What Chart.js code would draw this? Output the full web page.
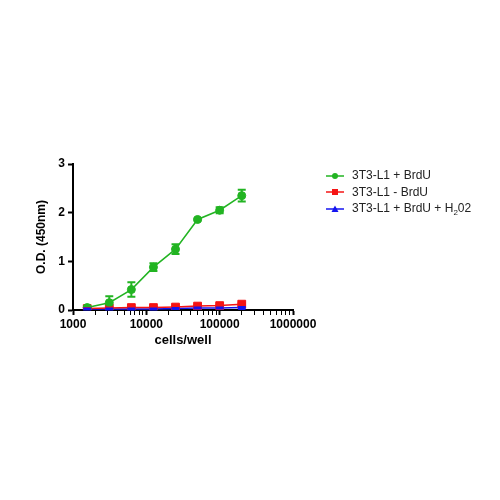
<!DOCTYPE html>
<html>
<head>
<meta charset="utf-8">
<script src="https://cdn.jsdelivr.net/npm/chart.js@4/dist/chart.umd.min.js"></script>
<style>
  body { margin: 0; background: #fff; }
  #wrap { position: relative; width: 500px; height: 500px; }
  .legend { position: absolute; left: 325px; top: 167px; font: 12px "Liberation Sans", Arial, sans-serif; color: #222; }
  .legend div { height: 16.5px; line-height: 16.5px; white-space: nowrap; }
  .legend canvas { vertical-align: middle; margin-right: 7px; }
  .legend sub { font-size: 8px; }
</style>
</head>
<body>
<div id="wrap">
  <canvas id="myChart" width="500" height="500"></canvas>
  <div class="legend" id="legend"></div>
</div>
<script>
// клетки на лунку (двукратные разведения)
const cells = [1562.5, 3125, 6250, 12500, 25000, 50000, 100000, 200000];

const brdu = [0.05, 0.15, 0.42, 0.88, 1.25, 1.86, 2.05, 2.35];
const brduErr = [0.03, 0.13, 0.15, 0.08, 0.10, 0.02, 0.06, 0.12];
const noBrdu = [0.03, 0.04, 0.05, 0.05, 0.06, 0.08, 0.09, 0.12];
const noBrduErr = [0.01, 0.01, 0.01, 0.01, 0.01, 0.02, 0.02, 0.02];
const h2o2 = [0.02, 0.02, 0.02, 0.02, 0.03, 0.04, 0.04, 0.05];
const h2o2Err = [0.01, 0.01, 0.01, 0.01, 0.01, 0.01, 0.01, 0.01];

const xTicks = [1000, 10000, 100000, 1000000];
const yTicks = [0, 1, 2, 3];

const series = [
  { label: '3T3-L1 + BrdU', html: '3T3-L1 + BrdU', color: 'rgb(34,180,34)', style: 'circle', r: 4, y: brdu, err: brduErr },
  { label: '3T3-L1 - BrdU', html: '3T3-L1 - BrdU', color: 'rgb(245,20,20)', style: 'rect', r: 5.5, y: noBrdu, err: noBrduErr },
  { label: '3T3-L1 + BrdU + H202', html: '3T3-L1 + BrdU + H<sub>2</sub>02', color: 'rgb(20,20,240)', style: 'triangle', r: 4, y: h2o2, err: h2o2Err }
];

// планки погрешностей
const errorBars = {
  id: 'errorBars',
  afterDatasetsDraw(chart) {
    const ctx = chart.ctx;
    const xs = chart.scales.x, ys = chart.scales.y;
    chart.data.datasets.forEach((ds, i) => {
      const err = series[i].err;
      ctx.save();
      ctx.strokeStyle = ds.borderColor;
      ctx.lineWidth = 2;
      ds.data.forEach((p, j) => {
        const x = xs.getPixelForValue(p.x);
        const top = ys.getPixelForValue(p.y + err[j]);
        const bot = ys.getPixelForValue(Math.max(0, p.y - err[j]));
        ctx.beginPath();
        ctx.moveTo(x, top); ctx.lineTo(x, bot);
        ctx.moveTo(x - 4, top); ctx.lineTo(x + 4, top);
        ctx.moveTo(x - 4, bot); ctx.lineTo(x + 4, bot);
        ctx.stroke();
      });
      ctx.restore();
    });
  }
};

const config = {
  type: 'line',
  data: {
    datasets: series.map(s => ({
      label: s.label,
      data: cells.map((c, i) => ({ x: c, y: s.y[i] })),
      borderColor: s.color,
      backgroundColor: s.color,
      borderWidth: 1.5,
      pointStyle: s.style,
      pointRadius: s.r,
      pointBorderWidth: 1
    }))
  },
  options: {
    responsive: false,
    animation: false,
    layout: { padding: { left: 30, right: 207, top: 164, bottom: 148 } },
    plugins: { legend: { display: false }, tooltip: { enabled: false } },
    scales: {
      x: {
        type: 'logarithmic',
        min: 1000,
        max: 1000000,
        afterFit: s => { s.height = 42; },
        afterBuildTicks: s => {
          const t = [];
          for (let d = 1000; d < 1000000; d *= 10)
            for (let k = 1; k < 10; k++) t.push({ value: d * k, major: k === 1 });
          t.push({ value: 1000000, major: true });
          s.ticks = t;
        },
        border: { color: '#000', width: 2 },
        grid: {
          drawOnChartArea: false,
          tickLength: 5,
          tickColor: '#000',
          tickWidth: c => (c.tick && c.tick.major ? 2 : 1)
        },
        ticks: {
          color: '#000',
          autoSkip: false,
          maxRotation: 0,
          padding: 2,
          font: { family: 'Liberation Sans', weight: 'bold', size: 12 },
          callback: v => (xTicks.includes(v) ? String(v) : '')
        },
        title: {
          display: true,
          text: 'cells/well',
          color: '#000',
          padding: { top: 0 },
          font: { family: 'Liberation Sans', weight: 'bold', size: 13 }
        }
      },
      y: {
        min: 0,
        max: 3,
        afterFit: s => { s.width = 43; },
        afterBuildTicks: s => { s.ticks = yTicks.map(v => ({ value: v })); },
        border: { color: '#000', width: 2 },
        grid: { drawOnChartArea: false, tickLength: 5, tickColor: '#000', tickWidth: 2 },
        ticks: {
          color: '#000',
          padding: 3,
          font: { family: 'Liberation Sans', weight: 'bold', size: 12 }
        },
        title: {
          display: true,
          text: 'O.D. (450nm)',
          color: '#000',
          padding: { bottom: 4 },
          font: { family: 'Liberation Sans', weight: 'bold', size: 12 }
        }
      }
    }
  },
  plugins: [errorBars]
};

const myChart = new Chart(document.getElementById('myChart'), config);

// легенда
const legend = document.getElementById('legend');
series.forEach(s => {
  const row = document.createElement('div');
  const c = document.createElement('canvas');
  c.width = 20; c.height = 10;
  const g = c.getContext('2d');
  g.strokeStyle = s.color; g.lineWidth = 1.5;
  g.beginPath(); g.moveTo(1, 5); g.lineTo(19, 5); g.stroke();
  g.fillStyle = s.color;
  g.beginPath();
  if (s.style === 'circle') g.arc(10, 5, 3, 0, Math.PI * 2);
  else if (s.style === 'rect') g.rect(7, 2, 6, 6);
  else { g.moveTo(10, 1.5); g.lineTo(13.5, 8); g.lineTo(6.5, 8); g.closePath(); }
  g.fill();
  row.appendChild(c);
  const span = document.createElement('span');
  span.innerHTML = s.html;
  row.appendChild(span);
  legend.appendChild(row);
});
</script>
</body>
</html>
